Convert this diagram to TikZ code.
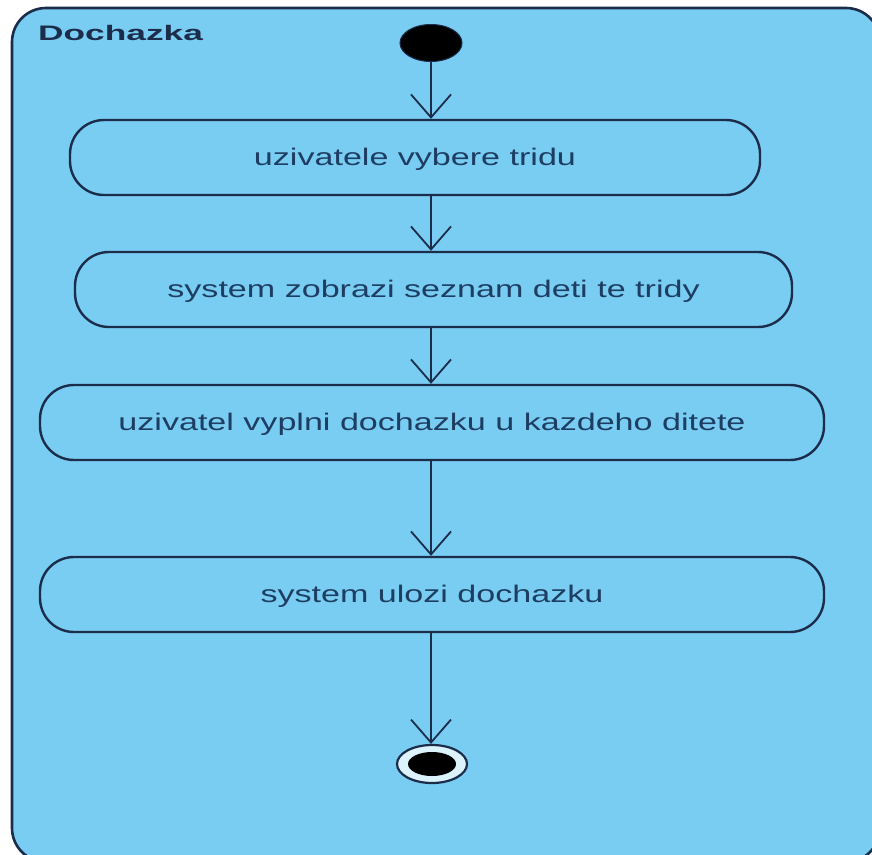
\documentclass[tikz,border=0pt]{standalone}
\usepackage{fontspec}
\setmainfont{Liberation Sans}
\usetikzlibrary{arrows.meta,shapes.geometric}
\definecolor{skyfill}{HTML}{7ACDF2}
\definecolor{navy}{HTML}{1B2D4B}
\definecolor{txtc}{HTML}{1E3D62}
\definecolor{ringgap}{HTML}{DDF3FC}
\newcommand{\sx}[1]{\scalebox{1.42}[1]{#1}}
\newcommand{\tx}[1]{\scalebox{1.68}[1]{#1}}
\tikzset{
  action/.style={draw=navy, line width=2.4pt, rounded corners=34pt, fill=skyfill,
    text=txtc, font=\fontsize{24}{28}\selectfont, inner sep=0pt, text depth=2pt},
  flow/.style={draw=navy, line width=1.8pt, -{Straight Barb[length=23pt,width=40pt,line width=1.8pt]}},
}
\begin{document}
\begin{tikzpicture}[x=1pt,y=-1pt]
\useasboundingbox (0,0) rectangle (872,854);
\fill[white] (0,0) rectangle (872,854);
\begin{scope}
\clip (0,0) rectangle (872,854);
\draw[draw=navy, line width=2.6pt, fill=skyfill, rounded corners=34pt] (12,8) rectangle (880,862);
\end{scope}
\node[anchor=base west, text=navy, font=\fontsize{21}{25}\selectfont\bfseries, inner sep=0pt] (title) at (38,40) {\tx{Dochazka}};
\node[ellipse, fill=black, draw=navy, line width=1pt, minimum width=62pt, minimum height=37pt, inner sep=0pt] (start) at (431,43) {};
\node[action, minimum width=690pt, minimum height=75pt] (b1) at (415,157.5) {\sx{uzivatele vybere tridu}};
\node[action, minimum width=717pt, minimum height=75pt] (b2) at (433.5,289.5) {\sx{system zobrazi seznam deti te tridy}};
\node[action, minimum width=784pt, minimum height=75pt] (b3) at (432,422.5) {\sx{uzivatel vyplni dochazku u kazdeho ditete}};
\node[action, minimum width=784pt, minimum height=75pt] (b4) at (432,594.5) {\sx{system ulozi dochazku}};
\node[ellipse, fill=ringgap, draw=navy, line width=2.2pt, minimum width=70pt, minimum height=38pt, inner sep=0pt] (endo) at (432,764) {};
\node[ellipse, fill=black, minimum width=48pt, minimum height=24pt, inner sep=0pt] (endi) at (endo.center) {};
\draw[flow] (start.south) -- (start.south |- b1.north);
\draw[flow] (start.south |- b1.south) -- (start.south |- b2.north);
\draw[flow] (start.south |- b2.south) -- (start.south |- b3.north);
\draw[flow] (start.south |- b3.south) -- (start.south |- b4.north);
\draw[flow] (start.south |- b4.south) -- (start.south |- endo.north);
\end{tikzpicture}
\end{document}
